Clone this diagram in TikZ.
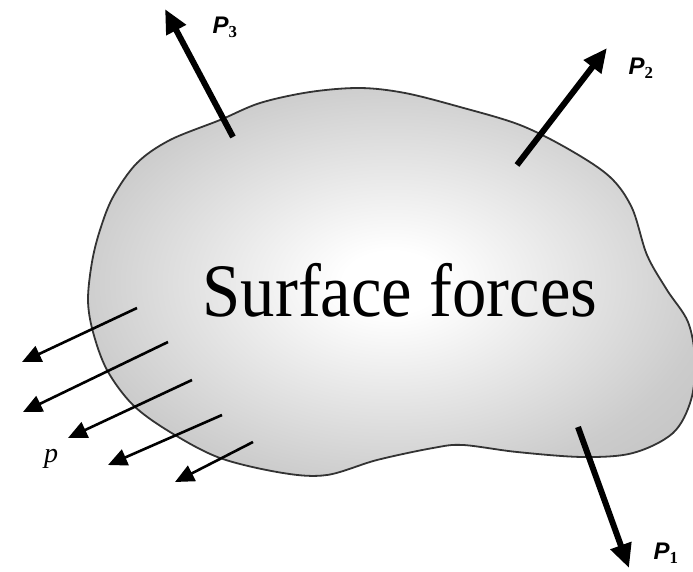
\documentclass[tikz,border=0pt]{standalone}
\usepackage{fontspec}
\setmainfont{Liberation Serif}
\newfontfamily\lblfont{Liberation Sans}
\usetikzlibrary{arrows.meta}
\pgfdeclareradialshading{blobshade}{\pgfpoint{0bp}{0bp}}{color(0bp)=(white); color(4bp)=(white); color(26bp)=(black!20); color(40bp)=(black!27); color(50bp)=(black!30)}
\tikzset{
  bigforce/.style={line width=6pt, -{Triangle[length=24pt,width=21pt]}},
  smallforce/.style={line width=2.6pt, -{Triangle[length=19pt,width=17pt]}},
  forcelbl/.style={font=\lblfont\bfseries\itshape\fontsize{24}{26}\selectfont, inner sep=0pt},
  outline/.style={draw=black!80, line width=1.8pt}
}
\begin{document}
\begin{tikzpicture}[x=1pt,y=-1pt]
\useasboundingbox (0,0) rectangle (693,572);
\path[outline, shading=blobshade] plot[smooth cycle, tension=0.55] coordinates {
 (88,300) (92,262) (100,230) (113,197) (137,163) (170,140) (220,120) (260,103) (310,92) (360,88) (405,93) (460,107) (520,125) (570,150) (610,177) (632,208) (647,255) (667,290) (688,322) (695,360) (691,400) (673,433) (633,453) (583,457) (517,452) (463,445) (433,448) (377,460) (327,475) (283,473) (220,458) (170,432) (133,405) (107,370) (93,332)};
\node[font=\fontsize{75.5}{78}\selectfont, xscale=0.91, anchor=base, inner sep=0pt] (title) at (400,316) {Surface forces};
% big forces
\coordinate (t3) at (233,137); \coordinate (h3) at (165,9);
\coordinate (t2) at (517,165); \coordinate (h2) at (607,48);
\coordinate (t1) at (578,427); \coordinate (h1) at (629,568);
\draw[bigforce] (t3) -- (h3);
\draw[bigforce] (t2) -- (h2);
\draw[bigforce] (t1) -- (h1);
\node[forcelbl] (l3) at (225,27) {P$_{\mathbf 3}$};
\node[forcelbl] (l2) at (641,68) {P$_{\mathbf 2}$};
\node[forcelbl] (l1) at (666,553) {P$_{\mathbf 1}$};
% distributed load
\coordinate (a1) at (137,308); \coordinate (b1) at (22,362);
\coordinate (a2) at (168,342); \coordinate (b2) at (23,412);
\coordinate (a3) at (192,380); \coordinate (b3) at (68,438);
\coordinate (a4) at (222,415); \coordinate (b4) at (108,465);
\coordinate (a5) at (253,442); \coordinate (b5) at (175,482);
\foreach \i in {1,...,5} \draw[smallforce] (a\i) -- (b\i);
\node[font=\itshape\fontsize{28}{30}\selectfont, inner sep=0pt] (pl) at (51,459) {p};
\end{tikzpicture}
\end{document}
